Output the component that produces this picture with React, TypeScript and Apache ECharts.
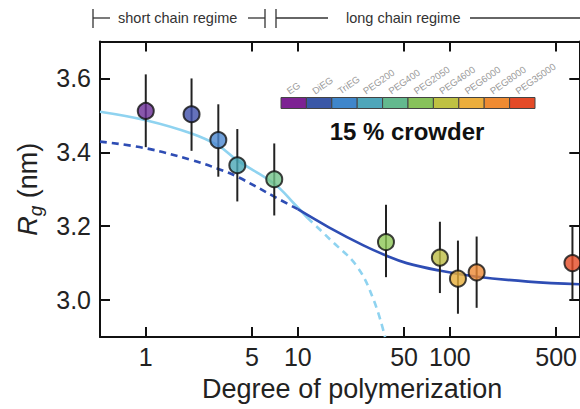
import { useEffect, useRef } from 'react';
import * as echarts from 'echarts';

// ---------- data ----------
const crowders = ['EG', 'DiEG', 'TriEG', 'PEG200', 'PEG400', 'PEG2050', 'PEG4600', 'PEG6000', 'PEG8000', 'PEG35000'];
const degree = [1, 2, 3, 4, 7, 38, 86, 113, 150, 640];
const rg = [3.512, 3.503, 3.433, 3.365, 3.327, 3.157, 3.115, 3.058, 3.075, 3.1];
const rgLow = [3.414, 3.404, 3.334, 3.267, 3.229, 3.062, 3.019, 2.963, 2.979, 3.0];
const rgHigh = [3.611, 3.6, 3.53, 3.463, 3.424, 3.258, 3.212, 3.161, 3.172, 3.2];

const xTicks = [1, 5, 10, 50, 100, 500];
const yTicks = [3.0, 3.2, 3.4, 3.6];

// short-chain fit (light blue): solid part and dashed extrapolation
const shortFitSolid: number[][] = [
  [0.5, 3.51], [1, 3.487], [2, 3.451], [3, 3.418], [4, 3.378], [7, 3.315], [9.5, 3.26], [11.6, 3.222],
];
const shortFitDashed: number[][] = [
  [11.6, 3.222], [16.4, 3.163], [24.5, 3.091], [31.5, 3.001], [37.5, 2.9],
];
// long-chain fit (dark blue): dashed extrapolation and solid part
const longFitDashed: number[][] = [
  [0.5, 3.429], [1, 3.411], [2, 3.379], [3, 3.355], [4, 3.334], [7, 3.28], [10, 3.246],
];
const longFitSolid: number[][] = [
  [10, 3.246], [16, 3.197], [27, 3.148], [38.4, 3.12], [52, 3.1], [85, 3.08], [147, 3.064], [327, 3.05], [710, 3.043],
];

const pointColors = ['#6a2d96', '#3f4faa', '#4b87cf', '#4aa8b5', '#72c38a', '#8dc656', '#bdbd45', '#e6ae3a', '#ee8a35', '#e34b26'];
const barColors = ['#7d2293', '#3a57a7', '#3f86cb', '#4ea6ba', '#63b98e', '#87c25a', '#bfc142', '#ecae3c', '#ef8b32', '#e44a27'];

const FONT = 'Liberation Sans, Arial, Helvetica, sans-serif';
const INK = '#222';

export default function App() {
  const ref = useRef<HTMLDivElement>(null);

  useEffect(() => {
    if (!ref.current) return;
    const chart = echarts.init(ref.current, undefined, { renderer: 'svg' });

    const barX0 = 281;
    const cellW = 25.4;
    const graphics: any[] = [];
    crowders.forEach((name, i) => {
      graphics.push({
        type: 'rect',
        shape: { x: barX0 + i * cellW, y: 97.5, width: cellW, height: 11 },
        style: { fill: barColors[i], stroke: '#444', lineWidth: 1 },
      });
      graphics.push({
        type: 'text',
        x: barX0 + (i + 0.5) * cellW - 3,
        y: 96,
        rotation: (35 * Math.PI) / 180,
        style: { text: name, fontSize: 9.5, fill: '#999', fontFamily: FONT, align: 'left', verticalAlign: 'bottom' },
      });
    });
    graphics.push({
      type: 'text',
      x: 407,
      y: 131,
      style: { text: '15 % crowder', fontSize: 24, fontWeight: 'bold', fill: '#111', fontFamily: FONT, align: 'center', verticalAlign: 'middle' },
    });
    const annLine = (x1: number, y1: number, x2: number, y2: number) => ({
      type: 'line',
      shape: { x1, y1, x2, y2 },
      style: { stroke: '#333', lineWidth: 1.3 },
    });
    graphics.push(annLine(93, 9, 93, 28), annLine(93, 18, 110, 18));
    graphics.push({
      type: 'text', x: 118, y: 18,
      style: { text: 'short chain regime', fontSize: 14.5, fill: '#333', fontFamily: FONT, align: 'left', verticalAlign: 'middle' },
    });
    graphics.push(annLine(248, 18, 265, 18), annLine(265, 9, 265, 28));
    graphics.push(annLine(276, 9, 276, 28), annLine(276, 18, 328, 18));
    graphics.push({
      type: 'text', x: 346, y: 18,
      style: { text: 'long chain regime', fontSize: 14.5, fill: '#333', fontFamily: FONT, align: 'left', verticalAlign: 'middle' },
    });
    graphics.push(annLine(470, 18, 580, 18));

    const axisLine = { show: true, lineStyle: { color: '#111', width: 2 } };
    const tickStyle = { color: '#111', width: 2 };

    const errorData = degree.map((d, i) => [d, rgLow[i], rgHigh[i]]);
    const pointData = degree.map((d, i) => ({ value: [d, rg[i]], itemStyle: { color: pointColors[i] } }));

    chart.setOption({
      animation: false,
      backgroundColor: '#fff',
      grid: { left: 100, top: 41.5, right: -5, bottom: 72 },
      xAxis: [
        {
          type: 'log', position: 'bottom', min: 0.5, max: 710,
          name: 'Degree of polymerization', nameLocation: 'middle', nameGap: 38,
          nameTextStyle: { fontSize: 27, color: INK, fontFamily: FONT, padding: [0, 0, 0, 25] },
          axisLine,
          axisTick: { show: true, inside: true, length: 10, lineStyle: tickStyle, customValues: xTicks },
          axisLabel: { show: true, fontSize: 25, color: INK, fontFamily: FONT, margin: 7, customValues: xTicks },
          splitLine: { show: false }, minorTick: { show: false },
        },
        {
          type: 'log', position: 'top', min: 0.5, max: 710,
          axisLine,
          axisTick: { show: true, inside: true, length: 10, lineStyle: tickStyle, customValues: xTicks },
          axisLabel: { show: false },
          splitLine: { show: false },
        },
      ],
      yAxis: [
        {
          type: 'value', position: 'left', min: 2.9, max: 3.7,
          name: '{r|R}{g|g}{n| (nm)}', nameLocation: 'middle', nameGap: 52, nameRotate: 90,
          nameTextStyle: {
            color: INK, fontFamily: FONT, fontSize: 27,
            rich: {
              r: { fontStyle: 'italic', fontSize: 27, color: INK, fontFamily: FONT, lineHeight: 34, verticalAlign: 'middle' },
              g: { fontStyle: 'italic', fontSize: 19, color: INK, fontFamily: FONT, verticalAlign: 'bottom' },
              n: { fontSize: 27, color: INK, fontFamily: FONT, verticalAlign: 'middle' },
            },
          },
          axisLine,
          axisTick: { show: true, inside: true, length: 10, lineStyle: tickStyle, customValues: yTicks },
          axisLabel: { show: true, fontSize: 25, color: INK, fontFamily: FONT, margin: 9, customValues: yTicks, formatter: (v: number) => v.toFixed(1) },
          splitLine: { show: false },
        },
        {
          type: 'value', position: 'right', min: 2.9, max: 3.7,
          axisLine,
          axisTick: { show: true, inside: true, length: 10, lineStyle: tickStyle, customValues: yTicks },
          axisLabel: { show: false },
          splitLine: { show: false },
        },
      ],
      series: [
        {
          type: 'line', data: shortFitSolid, smooth: 0.4, showSymbol: false, symbol: 'none',
          lineStyle: { color: '#8fd3f0', width: 2.6 }, z: 2,
        },
        {
          type: 'line', data: shortFitDashed, smooth: 0.4, showSymbol: false, symbol: 'none',
          lineStyle: { color: '#8fd3f0', width: 2.6, type: [7, 5] }, z: 2,
        },
        {
          type: 'line', data: longFitDashed, smooth: 0.4, showSymbol: false, symbol: 'none',
          lineStyle: { color: '#2e4db4', width: 2.6, type: [7, 5] }, z: 3,
        },
        {
          type: 'line', data: longFitSolid, smooth: 0.4, showSymbol: false, symbol: 'none',
          lineStyle: { color: '#2e4db4', width: 2.6 }, z: 3,
        },
        {
          type: 'custom', data: errorData, z: 4,
          renderItem: (_p: any, api: any) => {
            const x = api.value(0);
            const p1 = api.coord([x, api.value(1)]);
            const p2 = api.coord([x, api.value(2)]);
            return {
              type: 'line',
              shape: { x1: p1[0], y1: p1[1], x2: p2[0], y2: p2[1] },
              style: { stroke: '#222', lineWidth: 2 },
            };
          },
        },
        {
          type: 'scatter', data: pointData, symbol: 'circle', symbolSize: 16, z: 5,
          itemStyle: { borderColor: '#111', borderWidth: 2 },
        },
      ],
      graphic: graphics,
    });

    return () => chart.dispose();
  }, []);

  return <div ref={ref} style={{ position: 'fixed', left: 0, top: 0, width: 580, height: 409 }} />;
}
